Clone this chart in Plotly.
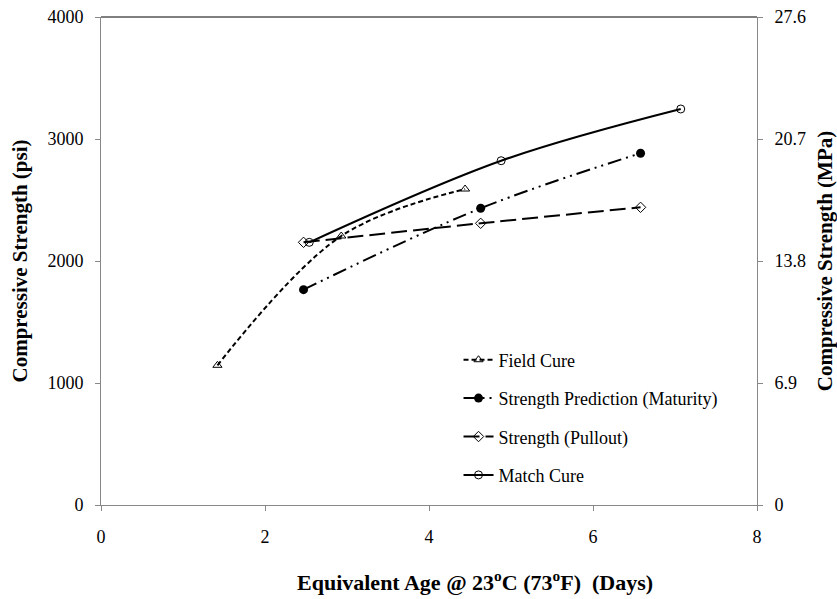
import plotly.graph_objects as go

# Data (Equivalent age in days, compressive strength in psi)
field_x = [1.42, 2.93, 4.44]
field_y = [1145, 2205, 2590]

maturity_x = [2.47, 4.63, 6.58]
maturity_y = [1765, 2432, 2883]

pullout_x = [2.47, 4.63, 6.58]
pullout_y = [2153, 2309, 2440]

match_x = [2.54, 4.88, 7.07]
match_y = [2153, 2822, 3246]

psi_ticks = [0, 1000, 2000, 3000, 4000]
mpa_ticks = [0, 6.9, 13.8, 20.7, 27.6]
x_ticks = [0, 2, 4, 6, 8]

FONT = "Liberation Serif"

fig = go.Figure()

fig.add_trace(go.Scatter(
    x=field_x, y=field_y, name="Field Cure", mode="lines+markers",
    line=dict(color="black", width=2, dash="5px,3px", shape="spline"),
    marker=dict(symbol="triangle-up-open", size=8, color="black", line=dict(width=1)),
    legendgroup="a"))
fig.add_trace(go.Scatter(
    x=maturity_x, y=maturity_y, name="Strength Prediction (Maturity)", mode="lines+markers",
    line=dict(color="black", width=2, dash="14px,5px,2px,5px,2px,5px", shape="spline"),
    marker=dict(symbol="circle", size=9, color="black"),
    legendgroup="b"))
fig.add_trace(go.Scatter(
    x=pullout_x, y=pullout_y, name="Strength (Pullout)", mode="lines+markers",
    line=dict(color="black", width=2, dash="16px,6px", shape="spline"),
    marker=dict(symbol="diamond-open", size=8, color="black", line=dict(width=1)),
    legendgroup="c"))
fig.add_trace(go.Scatter(
    x=match_x, y=match_y, name="Match Cure", mode="lines+markers",
    line=dict(color="black", width=2, shape="spline"),
    marker=dict(symbol="circle-open", size=8, color="black", line=dict(width=1)),
    legendgroup="d"))

# invisible trace to anchor the secondary (MPa) axis
fig.add_trace(go.Scatter(
    x=match_x, y=[v * 27.6 / 4000 for v in match_y], yaxis="y2",
    mode="lines", line=dict(width=0, color="rgba(0,0,0,0)"),
    showlegend=False, hoverinfo="skip"))

axis_common = dict(
    showgrid=False, zeroline=False, showline=True, linecolor="#888888", linewidth=1,
    ticks="outside", ticklen=5, tickcolor="#888888", automargin=False,
    tickfont=dict(family=FONT, size=18, color="black"),
)

fig.update_layout(
    width=837, height=599,
    margin=dict(l=101, r=80, t=17, b=94),
    paper_bgcolor="white", plot_bgcolor="white",
    font=dict(family=FONT, color="black"),
    xaxis=dict(range=[0, 8], tickvals=x_ticks, **axis_common,
               mirror=False, ticklabelstandoff=10),
    yaxis=dict(range=[0, 4000], tickvals=psi_ticks, **axis_common, ticklabelstandoff=8,
               title=dict(text="<b>Compressive Strength (psi)</b>",
                          font=dict(family=FONT, size=21), standoff=14)),
    yaxis2=dict(range=[0, 27.6], tickvals=mpa_ticks, ticktext=["0", "6.9", "13.8", "20.7", "27.6"],
                overlaying="y", side="right", **axis_common, ticklabelstandoff=8,
                title=dict(text="<b>Compressive Strength (MPa)</b>",
                           font=dict(family=FONT, size=21), standoff=14)),
    legend=dict(x=0.545, y=0.335, xanchor="left", yanchor="top",
                font=dict(family=FONT, size=18, color="black"),
                bgcolor="rgba(0,0,0,0)", tracegroupgap=12, itemwidth=30),
    showlegend=True,
)

# x-axis title (placed as annotation to match reference position)
fig.add_annotation(
    text="<b>Equivalent Age @ 23<sup>o</sup>C (73<sup>o</sup>F)  (Days)</b>",
    xref="paper", yref="paper", x=0.57, y=-0.156, xanchor="center", yanchor="middle",
    showarrow=False, font=dict(family=FONT, size=22, color="black"))

# top border line
fig.add_shape(type="line", xref="paper", yref="paper", x0=0, x1=1, y0=1, y1=1,
              line=dict(color="black", width=1))

fig.write_html("out.html")
